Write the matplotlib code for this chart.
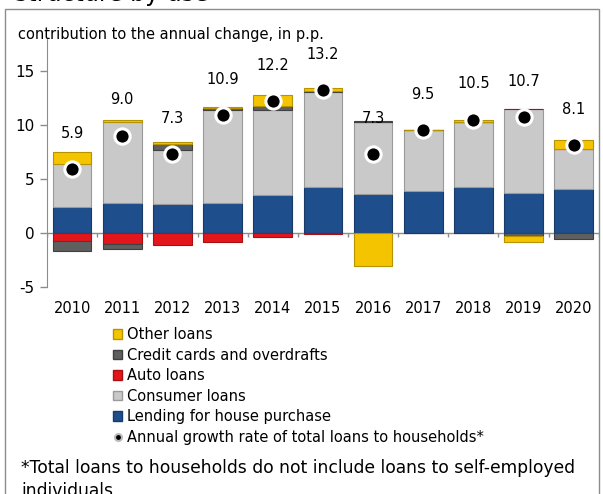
import numpy as np
import matplotlib
matplotlib.use("Agg")
import matplotlib.pyplot as plt
from matplotlib.patches import Patch, Rectangle
from matplotlib.lines import Line2D

years = ["2010", "2011", "2012", "2013", "2014", "2015", "2016", "2017", "2018", "2019", "2020"]
house = [2.4, 2.8, 2.65, 2.8, 3.5, 4.3, 3.65, 3.85, 4.25, 3.7, 4.1]
consumer = [4.0, 7.5, 5.0, 8.6, 7.85, 8.75, 6.6, 5.65, 6.05, 7.8, 3.7]
auto = [-0.7, -1.0, -1.1, -0.8, -0.4, -0.1, 0.0, 0.0, 0.0, 0.0, 0.0]
credit = [-1.0, -0.5, 0.55, 0.15, 0.45, 0.05, 0.1, 0.0, 0.0, -0.3, -0.6]
other = [1.1, 0.15, 0.2, 0.15, 0.95, 0.3, -3.1, 0.05, 0.2, -0.5, 0.85]
growth = [5.9, 9.0, 7.3, 10.9, 12.2, 13.2, 7.3, 9.5, 10.5, 10.7, 8.1]

names = ["Lending for house purchase", "Consumer loans", "Auto loans",
         "Credit cards and overdrafts", "Other loans"]
colors = ["#1f4e8c", "#c9c9c9", "#e3161c", "#5f5f5f", "#f5c400"]
edges = ["#173a68", "#9a9a9a", "#a81014", "#404040", "#b89300"]

plt.rcParams["font.family"] = "DejaVu Sans"

fig = plt.figure(figsize=(6.03, 4.94), dpi=100)
ax = fig.add_axes([0.078, 0.419, 0.915, 0.503])

x = np.arange(len(years))
pos = np.zeros(len(years))
neg = np.zeros(len(years))
for vals, c, ec in zip([house, consumer, auto, credit, other], colors, edges):
    v = np.array(vals)
    bottom = np.where(v >= 0, pos, neg)
    ax.bar(x, v, 0.77, bottom=bottom, color=c, edgecolor=ec, linewidth=0.8, zorder=2)
    pos = pos + np.clip(v, 0, None)
    neg = neg + np.clip(v, None, 0)

ax.plot(x, growth, "o", color="black", markersize=11, markeredgecolor="white",
        markeredgewidth=2.2, zorder=4)
for xi, g in zip(x, growth):
    ax.annotate(f"{g:.1f}", (xi, g), xytext=(0, 26), textcoords="offset points",
                ha="center", va="center", fontsize=10.5, zorder=5)

ax.set_xlim(-0.5, len(years) - 0.5)
ax.set_ylim(-5, 18)
ax.set_yticks([-5, 0, 5, 10, 15])
ax.set_yticklabels(["-5", "0", "5", "10", "15"])
ax.set_xticks(x)
ax.set_xticklabels(years)
ax.tick_params(axis="x", length=0, pad=10, labelsize=10.5)
ax.tick_params(axis="y", length=5, width=1, color="#8c8c8c", pad=4, labelsize=11)
for s in ["top", "right", "bottom"]:
    ax.spines[s].set_visible(False)
ax.spines["left"].set_color("#8c8c8c")
ax.axhline(0, color="#8c8c8c", linewidth=1, zorder=1)
ax.vlines(np.arange(-0.5, len(years)), -0.35, 0, color="#8c8c8c", linewidth=1, zorder=1)

fig.text(0.03, 0.931, "contribution to the annual change, in p.p.", fontsize=10.5, va="center")
fig.text(0.025, 0.998, "structure by use", fontsize=17, va="baseline")
fig.text(0.035, 0.053, "*Total loans to households do not include loans to self-employed",
         fontsize=12.3, va="center")
fig.text(0.035, 0.006, "individuals", fontsize=12.3, va="center")

fig.patches.append(Rectangle((0.009, -0.05), 0.985, 1.032, transform=fig.transFigure,
                             fill=False, edgecolor="#8c8c8c", linewidth=1))

handles = [Patch(facecolor=colors[i], edgecolor=edges[i]) for i in [4, 3, 2, 1, 0]]
labels = [names[i] for i in [4, 3, 2, 1, 0]]
handles.append(Line2D([], [], marker="o", linestyle="none", color="black", markersize=5,
                      markeredgecolor="#bbbbbb", markeredgewidth=1.5))
labels.append("Annual growth rate of total loans to households*")
fig.legend(handles, labels, loc="upper left", bbox_to_anchor=(0.188, 0.338), frameon=False,
           fontsize=10.5, handlelength=0.6, handleheight=0.6, handletextpad=0.35,
           labelspacing=0.38, borderpad=0, borderaxespad=0)

fig.savefig("out.png", dpi=100)
